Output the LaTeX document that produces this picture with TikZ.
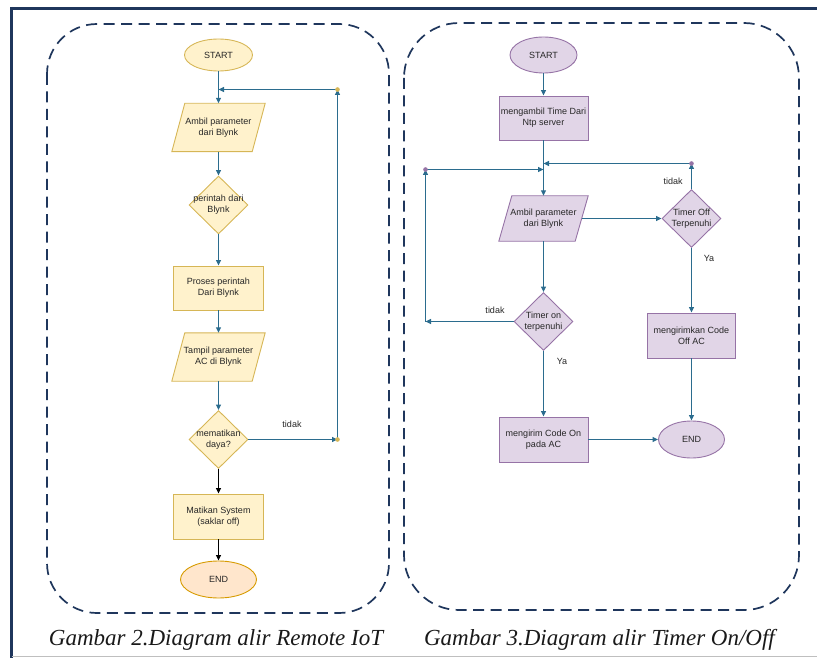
\documentclass[tikz,border=0pt]{standalone}
\usepackage{fontspec}
\setmainfont{Liberation Sans}
\newfontfamily\capfont{Liberation Serif}
\usetikzlibrary{shapes.geometric,arrows.meta}
\pgfdeclarelayer{bg}
\pgfsetlayers{bg,main}
\definecolor{yfill}{HTML}{FFF2CC}
\definecolor{ydraw}{HTML}{D6B656}
\definecolor{ofill}{HTML}{FFE6CC}
\definecolor{odraw}{HTML}{D79B00}
\definecolor{pfill}{HTML}{E1D5E7}
\definecolor{pdraw}{HTML}{9673A6}
\definecolor{conn}{HTML}{2B6C8E}
\definecolor{navy}{HTML}{1F365C}
\definecolor{txt}{HTML}{262626}
\begin{document}
\begin{tikzpicture}[x=1pt,y=-1pt,
  base/.style={font=\fontsize{9}{11}\selectfont, text=txt, align=center, inner sep=1pt},
  ynode/.style={fill=yfill, draw=ydraw, line width=0.9pt},
  onode/.style={fill=ofill, draw=odraw, line width=0.9pt},
  pnode/.style={fill=pfill, draw=pdraw, line width=0.9pt},
  term/.style={base, ellipse, inner sep=0pt},
  proc/.style={base, rectangle, minimum width=89, minimum height=44},
  iobox/.style={base, rectangle, minimum width=80, minimum height=48},
  dec/.style={base, diamond, minimum width=59, minimum height=58, inner sep=0pt},
  dtext/.style={base, align=center},
  arr/.style={draw=conn, line width=1.1pt, -{Triangle[length=5.5pt,width=5pt]}},
  arrk/.style={draw=black, line width=1.1pt, -{Triangle[length=5.5pt,width=5pt]}},
  lbl/.style={font=\fontsize{9}{10}\selectfont, text=txt},
  grpframe/.style={draw=navy, line width=1.7pt, dash pattern=on 11pt off 6.5pt, rounded corners=50pt},
  captext/.style={font=\capfont\itshape\fontsize{23}{26}\selectfont, text=black!90}
]
\useasboundingbox (0,0) rectangle (817,658);
% outer frame
\draw[navy, line width=3pt] (11.5,8.5) -- (817,8.5);
\draw[navy, line width=3pt] (11.5,7) -- (11.5,658);
\draw[black!25, line width=1pt] (11.5,656.5) -- (817,656.5);

% dashed groups
\draw[grpframe] (47,24) rectangle (389,613);
\draw[grpframe, rounded corners=55pt] (404,23) rectangle (799,610);

% ---------- left chart ----------
\node[term, ynode, minimum width=68, minimum height=32] (s1) at (218.5,55) {START};
\node[iobox] (p1) at (218.5,127.5) {Ambil parameter\\dari Blynk};
\node[dec, ynode, label={[dtext]center:perintah dari\\Blynk}] (d1) at (218.5,205) {};
\node[proc, ynode, minimum width=90] (r1) at (218.5,288) {Proses perintah\\Dari Blynk};
\node[iobox] (p2) at (218.5,357) {Tampil parameter\\AC di Blynk};
\node[dec, ynode, label={[dtext]center:mematikan\\daya?}] (d2) at (218.5,439.5) {};
\node[proc, ynode, minimum width=90, minimum height=45] (r2) at (218.5,516.5) {Matikan System\\(saklar off)};
\node[term, onode, minimum width=76, minimum height=37] (e1) at (218.5,579.5) {END};

\begin{pgfonlayer}{bg}
\foreach \n in {p1,p2}{
  \draw[ynode] ([xshift=6.5pt]\n.north west) -- ([xshift=6.5pt]\n.north east)
     -- ([xshift=-6.5pt]\n.south east) -- ([xshift=-6.5pt]\n.south west) -- cycle;
}
\end{pgfonlayer}

\coordinate (c1) at (337.5,439.5);
\coordinate (c2) at (337.5,89.5);
\coordinate (j1) at (218.5,89.5);

\draw[arr] (s1) -- (p1);
\draw[arr] (p1) -- (d1);
\draw[arr] (d1) -- (r1);
\draw[arr] (r1) -- (p2);
\draw[arr] (p2) -- (d2);
\draw[arrk] (d2) -- (r2);
\draw[arrk] (r2) -- (e1);
\draw[arr] (d2.east) -- (c1);
\draw[arr] (c1) -- (c2);
\draw[arr] (c2) -- (j1);
\fill[ydraw] (c1) circle (2.3);
\fill[ydraw] (c2) circle (2.3);
\node[lbl] (t1) at (292,424) {tidak};

% ---------- right chart ----------
\node[term, pnode, minimum width=67, minimum height=36] (s2) at (543.5,55) {START};
\node[proc, pnode] (r3) at (543.5,118) {mengambil Time Dari\\Ntp server};
\node[iobox, minimum width=76, minimum height=45] (p3) at (543.5,218.5) {Ambil parameter\\dari Blynk};
\node[dec, pnode, label={[dtext]center:Timer Off\\Terpenuhi}] (d3) at (691.5,218.5) {};
\node[proc, pnode, minimum width=88, minimum height=45] (r4) at (691.5,335.5) {mengirimkan Code\\Off AC};
\node[term, pnode, minimum width=66, minimum height=37] (e2) at (691.5,439.5) {END};
\node[dec, pnode, label={[dtext]center:Timer on\\terpenuhi}] (d4) at (543.5,321.5) {};
\node[proc, pnode, minimum height=45] (r5) at (543.5,439.5) {mengirim Code On\\pada AC};

\begin{pgfonlayer}{bg}
\draw[pnode] ([xshift=6.5pt]p3.north west) -- ([xshift=6.5pt]p3.north east)
     -- ([xshift=-6.5pt]p3.south east) -- ([xshift=-6.5pt]p3.south west) -- cycle;
\end{pgfonlayer}

\coordinate (ja) at (543.5,163.5);
\coordinate (jb) at (543.5,169.5);
\coordinate (ka) at (691.5,163.5);
\coordinate (kb) at (425.5,169.5);
\coordinate (kc) at (425.5,321.5);

\draw[arr] (s2) -- (r3);
\draw[arr] (r3) -- (p3);
\draw[arr] (p3) -- (d3);
\draw[arr] (d3) -- (ka);
\draw[arr] (ka) -- (ja);
\draw[arr] (d3) -- (r4);
\draw[arr] (r4) -- (e2);
\draw[arr] (p3) -- (d4);
\draw[arr] (d4) -- (kc);
\draw[arr] (kc) -- (kb);
\draw[arr] (kb) -- (jb);
\draw[arr] (d4) -- (r5);
\draw[arr] (r5) -- (e2);
\fill[pdraw] (ka) circle (2.3);
\fill[pdraw] (kb) circle (2.3);

\node[lbl] (t2) at (673,181) {tidak};
\node[lbl] (y2) at (709,258) {Ya};
\node[lbl] (t3) at (495,310) {tidak};
\node[lbl] (y3) at (562,361) {Ya};

% captions
\node[captext] (cap1) at (216,640) {Gambar 2.Diagram alir Remote IoT};
\node[captext] (cap2) at (599.5,640) {Gambar 3.Diagram alir Timer On/Off};
\end{tikzpicture}
\end{document}
